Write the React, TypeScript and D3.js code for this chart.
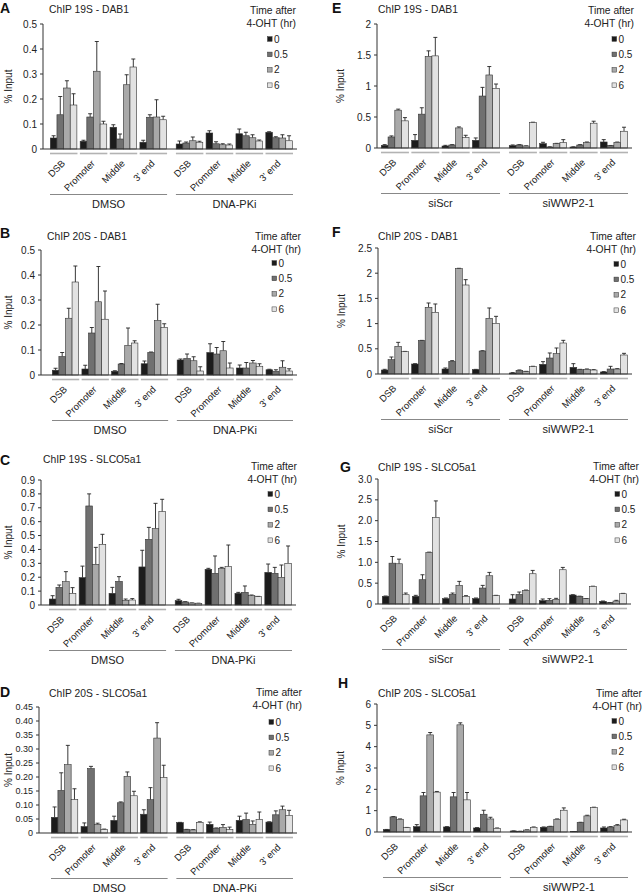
import React from 'react';
import * as d3 from 'd3';

const seriesLabels = ['0', '0.5', '2', '6'];
const seriesColors = ['#1c1c1c', '#707070', '#a9a9a9', '#e2e2e2'];
const categories = ['DSB', 'Promoter', 'Middle', "3' end"];
const dmsoGroups = ['DMSO', 'DNA-PKi'];
const siGroups = ['siScr', 'siWWP2-1'];

// rows: group x category (8 rows), cols: series 0, 0.5, 2, 6 h
const valuesA = [
  [0.044, 0.137, 0.244, 0.176], [0.031, 0.128, 0.311, 0.1], [0.087, 0.04, 0.257, 0.328], [0.027, 0.127, 0.128, 0.117],
  [0.02, 0.024, 0.033, 0.027], [0.064, 0.021, 0.017, 0.016], [0.061, 0.053, 0.045, 0.032], [0.067, 0.045, 0.044, 0.033],
];
const errorsA = [
  [0.009, 0.073, 0.029, 0.045], [0.004, 0.013, 0.119, 0.011], [0.01, 0.02, 0.04, 0.032], [0.008, 0.01, 0.069, 0.014],
  [0.012, 0.004, 0.015, 0.004], [0.009, 0.008, 0.004, 0.004], [0.019, 0.014, 0.012, 0.004], [0.002, 0.004, 0.013, 0.02],
];
const ticksA = ['0', '0.1', '0.2', '0.3', '0.4', '0.5'];

const valuesB = [
  [0.019, 0.074, 0.227, 0.372], [0.024, 0.168, 0.293, 0.223], [0.015, 0.044, 0.118, 0.128], [0.045, 0.09, 0.218, 0.19],
  [0.06, 0.066, 0.057, 0.016], [0.09, 0.084, 0.097, 0.028], [0.028, 0.028, 0.048, 0.035], [0.021, 0.015, 0.031, 0.016],
];
const errorsB = [
  [0.008, 0.016, 0.04, 0.064], [0.015, 0.022, 0.141, 0.113], [0.002, 0.002, 0.07, 0.009], [0.011, 0.002, 0.065, 0.015],
  [0.004, 0.018, 0.016, 0.017], [0.035, 0.026, 0.037, 0.02], [0.012, 0.022, 0.01, 0.01], [0.002, 0.006, 0.026, 0.009],
];
const ticksB = ['0', '0.1', '0.2', '0.3', '0.4', '0.5'];

const valuesC = [
  [0.043, 0.127, 0.168, 0.084], [0.197, 0.713, 0.293, 0.437], [0.084, 0.17, 0.034, 0.036], [0.274, 0.473, 0.55, 0.672],
  [0.031, 0.022, 0.014, 0.012], [0.257, 0.228, 0.264, 0.276], [0.084, 0.091, 0.067, 0.06], [0.235, 0.228, 0.199, 0.3],
];
const errorsC = [
  [0.024, 0.017, 0.072, 0.041], [0.083, 0.087, 0.122, 0.072], [0.043, 0.034, 0.009, 0.01], [0.12, 0.086, 0.182, 0.089],
  [0.01, 0.002, 0.001, 0.001], [0.007, 0.125, 0.007, 0.156], [0.007, 0.046, 0.005, 0.002], [0.06, 0.043, 0.089, 0.125],
];
const ticksC = ['0', '0.1', '0.2', '0.3', '0.4', '0.5', '0.6', '0.7', '0.8', '0.9'];

const valuesD = [
  [0.056, 0.152, 0.244, 0.119], [0.023, 0.23, 0.031, 0.012], [0.045, 0.108, 0.202, 0.133], [0.067, 0.119, 0.339, 0.198],
  [0.037, 0.012, 0.011, 0.038], [0.031, 0.017, 0.02, 0.012], [0.045, 0.048, 0.031, 0.048], [0.039, 0.065, 0.083, 0.062],
];
const errorsD = [
  [0.037, 0.063, 0.069, 0.039], [0.013, 0.008, 0.004, 0.002], [0.015, 0.003, 0.016, 0.016], [0.016, 0.043, 0.055, 0.044],
  [0.001, 0.001, 0.001, 0.002], [0.008, 0.001, 0.01, 0.009], [0.015, 0.023, 0.012, 0.027], [0.001, 0.014, 0.013, 0.019],
];
const ticksD = ['0', '0.05', '0.10', '0.15', '0.20', '0.25', '0.30', '0.35', '0.40', '0.45'];

const valuesE = [
  [0.043, 0.178, 0.61, 0.438], [0.124, 0.546, 1.476, 1.486], [0.032, 0.049, 0.324, 0.168], [0.124, 0.838, 1.178, 0.962],
  [0.038, 0.049, 0.032, 0.41], [0.07, 0.016, 0.07, 0.086], [0.016, 0.049, 0.086, 0.4], [0.097, 0.038, 0.092, 0.27],
];
const errorsE = [
  [0.011, 0.017, 0.017, 0.052], [0.092, 0.103, 0.091, 0.298], [0.011, 0.005, 0.016, 0.037], [0.038, 0.14, 0.136, 0.07],
  [0.011, 0.005, 0.003, 0.006], [0.022, 0.003, 0.005, 0.049], [0.003, 0.005, 0.011, 0.032], [0.038, 0.003, 0.004, 0.065],
];
const ticksE = ['0', '0.5', '1', '1.5', '2'];

const valuesF = [
  [0.079, 0.284, 0.549, 0.443], [0.198, 0.661, 1.323, 1.224], [0.099, 0.251, 2.09, 1.766], [0.086, 0.456, 1.104, 1.005],
  [0.02, 0.073, 0.046, 0.146], [0.192, 0.317, 0.403, 0.615], [0.132, 0.086, 0.093, 0.079], [0.04, 0.099, 0.099, 0.377],
];
const errorsF = [
  [0.014, 0.053, 0.079, 0.005], [0.006, 0.006, 0.086, 0.165], [0.02, 0.014, 0.007, 0.106], [0.006, 0.006, 0.206, 0.139],
  [0.007, 0.007, 0.007, 0.007], [0.053, 0.1, 0.113, 0.053], [0.073, 0.007, 0.007, 0.007], [0.007, 0.053, 0.007, 0.033],
];
const ticksF = ['0', '0.5', '1', '1.5', '2', '2.5'];

const valuesG = [
  [0.184, 0.98, 0.966, 0.223], [0.184, 0.583, 1.237, 2.075], [0.128, 0.231, 0.447, 0.184], [0.128, 0.383, 0.678, 0.2],
  [0.12, 0.231, 0.327, 0.726], [0.08, 0.088, 0.112, 0.822], [0.215, 0.184, 0.128, 0.423], [0.064, 0.032, 0.072, 0.247],
];
const errorsG = [
  [0.008, 0.16, 0.111, 0.04], [0.024, 0.119, 0.008, 0.399], [0.016, 0.032, 0.096, 0.016], [0.016, 0.064, 0.08, 0.008],
  [0.103, 0.056, 0.008, 0.08], [0.04, 0.04, 0.024, 0.056], [0.008, 0.004, 0.004, 0.004], [0.008, 0.004, 0.016, 0.008],
];
const ticksG = ['0', '0.5', '1.0', '1.5', '2.0', '2.5', '3.0'];

const valuesH = [
  [0.11, 0.707, 0.597, 0.204], [0.251, 1.695, 4.553, 1.868], [0.235, 1.648, 5.024, 1.507], [0.188, 0.832, 0.612, 0.173],
  [0.047, 0.031, 0.094, 0.22], [0.22, 0.251, 0.597, 1.02], [0.016, 0.44, 0.754, 1.146], [0.188, 0.235, 0.298, 0.565],
];
const errorsH = [
  [0.01, 0.016, 0.016, 0.01], [0.094, 0.157, 0.11, 0.032], [0.016, 0.204, 0.094, 0.345], [0.016, 0.188, 0.078, 0.016],
  [0.005, 0.005, 0.005, 0.016], [0.016, 0.016, 0.016, 0.11], [0.005, 0.016, 0.031, 0.016], [0.047, 0.016, 0.047, 0.032],
];
const ticksH = ['0', '1', '2', '3', '4', '5', '6'];

const panels = [
  { id: 'A', title: 'ChIP 19S - DAB1', groups: dmsoGroups, values: valuesA, errors: errorsA, ticks: ticksA },
  { id: 'B', title: 'ChIP 20S - DAB1', groups: dmsoGroups, values: valuesB, errors: errorsB, ticks: ticksB },
  { id: 'C', title: 'ChIP 19S - SLCO5a1', groups: dmsoGroups, values: valuesC, errors: errorsC, ticks: ticksC },
  { id: 'D', title: 'ChIP 20S - SLCO5a1', groups: dmsoGroups, values: valuesD, errors: errorsD, ticks: ticksD },
  { id: 'E', title: 'ChIP 19S - DAB1', groups: siGroups, values: valuesE, errors: errorsE, ticks: ticksE },
  { id: 'F', title: 'ChIP 20S - DAB1', groups: siGroups, values: valuesF, errors: errorsF, ticks: ticksF },
  { id: 'G', title: 'ChIP 19S - SLCO5a1', groups: siGroups, values: valuesG, errors: errorsG, ticks: ticksG },
  { id: 'H', title: 'ChIP 20S - SLCO5a1', groups: siGroups, values: valuesH, errors: errorsH, ticks: ticksH },
];

// layout (positions only)
const layouts: Record<string, any> = {
  A: { lx: 0, ly: 13, tx: 49, ty: 13, ax: 43, yTop: 24, yZero: 149, x0: 50, x1: 293, lgR: 296, lgY: 14, lgItem: 39, sqX: 267.5, ylx: 8, tickFs: 10 },
  B: { lx: 0, ly: 238, tx: 47, ty: 240, ax: 41, yTop: 250, yZero: 375, x0: 52, x1: 293, lgR: 301, lgY: 240, lgItem: 263, sqX: 272, ylx: 8, tickFs: 10 },
  C: { lx: 0, ly: 465, tx: 43, ty: 463, ax: 41, yTop: 480, yZero: 605, x0: 49, x1: 292, lgR: 297, lgY: 470, lgItem: 494, sqX: 268, ylx: 8, tickFs: 10 },
  D: { lx: 0, ly: 697, tx: 49, ty: 697, ax: 39, yTop: 707, yZero: 833, x0: 51, x1: 293, lgR: 302, lgY: 696, lgItem: 722, sqX: 269, ylx: 8, tickFs: 9 },
  E: { lx: 332, ly: 13, tx: 378, ty: 13, ax: 377, yTop: 24, yZero: 148, x0: 381, x1: 628, lgR: 634, lgY: 14, lgItem: 39, sqX: 612, ylx: 340, tickFs: 10 },
  F: { lx: 332, ly: 237, tx: 378, ty: 240, ax: 378, yTop: 248, yZero: 374, x0: 381, x1: 628, lgR: 636, lgY: 240, lgItem: 264, sqX: 614, ylx: 341, tickFs: 10 },
  G: { lx: 340, ly: 472, tx: 378, ty: 471, ax: 378, yTop: 479, yZero: 604, x0: 382, x1: 627, lgR: 639, lgY: 470, lgItem: 494, sqX: 615, ylx: 341, tickFs: 10 },
  H: { lx: 338, ly: 688, tx: 378, ty: 697, ax: 377, yTop: 704, yZero: 832, x0: 383, x1: 628, lgR: 642, lgY: 697, lgItem: 721, sqX: 612, ylx: 340, tickFs: 10 },
};

const FONT = "'Liberation Sans', Arial, Helvetica, sans-serif";
const TEXT = '#222';

function Panel({ p }: { p: any }) {
  const L = layouts[p.id];
  const tickVals = p.ticks.map((t: string) => parseFloat(t));
  const yMax = d3.max(tickVals) as number;
  const y = d3.scaleLinear().domain([0, yMax]).range([L.yZero, L.yTop]);
  const xg = d3.scaleBand<string>().domain(p.groups).range([L.x0, L.x1]).paddingInner(0.07).paddingOuter(0);
  const gw = xg.bandwidth();
  const xc = d3.scaleBand<string>().domain(categories).range([0, gw]).paddingInner(0.08).paddingOuter(0);
  const cw = xc.bandwidth();
  const xs = d3.scaleBand<string>().domain(seriesLabels).range([0.3, cw - 0.6]).padding(0);
  const bw = xs.bandwidth();

  const elems: any[] = [];
  p.groups.forEach((g: string, gi: number) => {
    const gx = xg(g) as number;
    categories.forEach((c, ci) => {
      const cx = gx + (xc(c) as number);
      const row = p.values[gi * 4 + ci];
      const erow = p.errors[gi * 4 + ci];
      seriesLabels.forEach((s, si) => {
        const v = row[si];
        const e = erow[si];
        const bx = cx + (xs(s) as number);
        const by = y(v);
        const ey = y(v + e);
        const mx = bx + bw / 2;
        elems.push(
          <g key={`${g}-${c}-${s}`}>
            <line x1={mx} x2={mx} y1={by} y2={ey} stroke="#222" strokeWidth={0.9} />
            <line x1={mx - 2} x2={mx + 2} y1={ey} y2={ey} stroke="#222" strokeWidth={0.9} />
            <rect x={bx} y={by} width={bw} height={L.yZero - by} fill={seriesColors[si]} stroke="#333" strokeWidth={0.6} />
          </g>
        );
      });
      elems.push(
        <line key={`ul-${g}-${c}`} x1={cx} x2={cx + cw} y1={L.yZero + 4.5} y2={L.yZero + 4.5} stroke="#b3b3b3" strokeWidth={1.6} />
      );
      const lx = cx + cw / 2 + 2;
      const ly = L.yZero + 15;
      elems.push(
        <text key={`cl-${g}-${c}`} transform={`translate(${lx},${ly}) rotate(-45)`} textAnchor="end" fontSize={9.5} fill={TEXT} fontFamily={FONT}>{c}</text>
      );
    });
    elems.push(
      <line key={`gl-${g}`} x1={gx} x2={gx + gw} y1={L.yZero + 45.5} y2={L.yZero + 45.5} stroke="#7a7a7a" strokeWidth={0.9} />
    );
    elems.push(
      <text key={`gt-${g}`} x={gx + gw / 2} y={L.yZero + 59} textAnchor="middle" fontSize={11} fill={TEXT} fontFamily={FONT}>{g}</text>
    );
  });

  return (
    <g>
      <text x={L.lx} y={L.ly} fontSize={14} fontWeight="bold" fill="#111" fontFamily={FONT}>{p.id}</text>
      <text x={L.tx} y={L.ty} fontSize={10.3} fill={TEXT} fontFamily={FONT}>{p.title}</text>
      <text transform={`translate(${L.ylx},${(L.yTop + L.yZero) / 2}) rotate(-90)`} textAnchor="middle" dy="0.35em" fontSize={10} fill={TEXT} fontFamily={FONT}>% Input</text>
      <line x1={L.ax} x2={L.ax} y1={L.yZero} y2={L.yTop} stroke="#333" strokeWidth={1} />
      {p.ticks.map((t: string, i: number) => (
        <g key={t}>
          <line x1={L.ax - 3} x2={L.ax} y1={y(tickVals[i])} y2={y(tickVals[i])} stroke="#333" strokeWidth={1} />
          <text x={L.ax - 6} y={y(tickVals[i])} dy="0.35em" textAnchor="end" fontSize={L.tickFs} fill={TEXT} fontFamily={FONT}>{t}</text>
        </g>
      ))}
      {elems}
      <line x1={L.ax} x2={L.x1 + 4} y1={L.yZero} y2={L.yZero} stroke="#333" strokeWidth={1.2} />
      <text x={L.lgR} y={L.lgY} textAnchor="end" fontSize={10.3} fill={TEXT} fontFamily={FONT}>Time after</text>
      <text x={L.lgR} y={L.lgY + 13} textAnchor="end" fontSize={10.3} fill={TEXT} fontFamily={FONT}>4-OHT (hr)</text>
      {seriesLabels.map((s, i) => {
        const cy = L.lgItem + i * 15.4;
        return (
          <g key={`lg-${s}`}>
            <rect x={L.sqX} y={cy - 2.3} width={4.6} height={4.6} fill={seriesColors[i]} stroke="#333" strokeWidth={0.5} />
            <text x={L.sqX + 6.5} y={cy} dy="0.35em" fontSize={10} fill={TEXT} fontFamily={FONT}>{s}</text>
          </g>
        );
      })}
    </g>
  );
}

export default function App() {
  return (
    <svg width={643} height={893} style={{ position: 'absolute', left: 0, top: 0, background: '#fff' }}>
      <rect width={643} height={893} fill="#fff" />
      {panels.map((p) => <Panel key={p.id} p={p} />)}
    </svg>
  );
}
